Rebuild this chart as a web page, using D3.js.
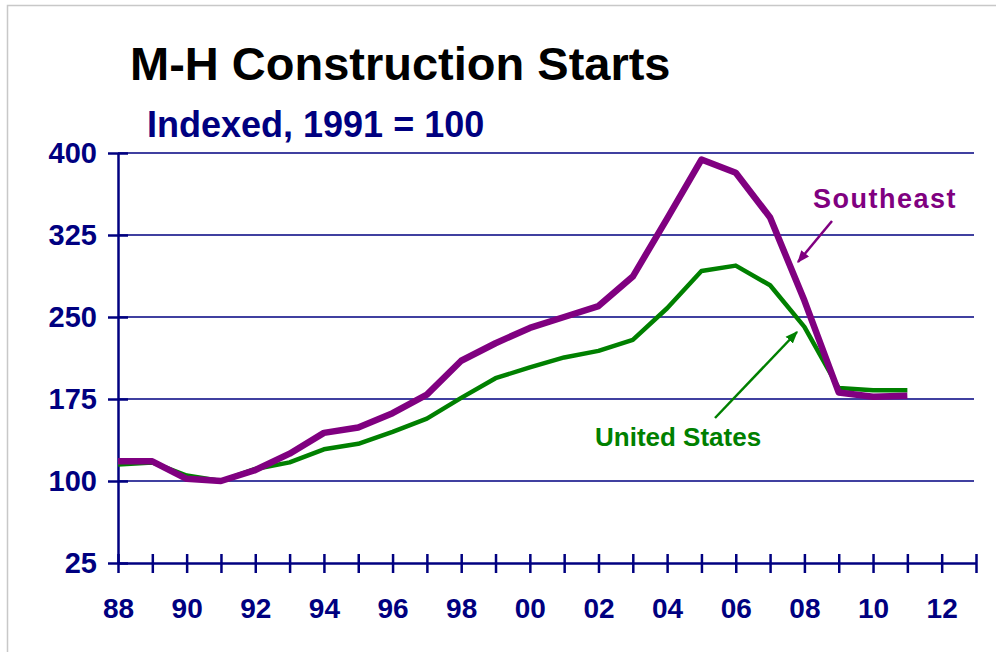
<!DOCTYPE html>
<meta charset="utf-8">
<head>
    <script src="https://d3js.org/d3.v7.min.js"></script>
</head>
<body style="margin:0; background:#fff;">
    <div id="svg_div"></div>
</body>
<style>
    text { font-family: "Liberation Sans", Arial, sans-serif; font-weight: bold; }
</style>
<script>

    // data
    var years = [1988, 1989, 1990, 1991, 1992, 1993, 1994, 1995, 1996, 1997, 1998, 1999,
        2000, 2001, 2002, 2003, 2004, 2005, 2006, 2007, 2008, 2009, 2010, 2011];
    var southeast = [118, 118, 102, 100, 110, 125, 144, 149, 162, 179, 210, 226,
        240, 250, 260, 287, 340, 394, 382, 341, 265, 181, 177, 178];
    var united_states = [115, 117, 105, 100, 111, 117, 129, 134, 145, 157, 176, 194,
        204, 213, 219, 229, 258, 292, 297, 279, 241, 185, 183, 183];

    var y_ticks = [25, 100, 175, 250, 325, 400];
    var x_ticks = [1988, 1989, 1990, 1991, 1992, 1993, 1994, 1995, 1996, 1997, 1998, 1999, 2000,
        2001, 2002, 2003, 2004, 2005, 2006, 2007, 2008, 2009, 2010, 2011, 2012, 2013];
    var x_labels = [1988, 1990, 1992, 1994, 1996, 1998, 2000, 2002, 2004, 2006, 2008, 2010, 2012];

    var navy = "#000080", purple = "#800080", green = "#008000";

    function draw_chart() {
        let svg = d3.select("#svg_div").append("svg")
            .attr("width", 996)
            .attr("height", 652);

        // light frame on top / left like the slide capture
        svg.append("rect")
            .attr("x", 7.5).attr("y", 5.5)
            .attr("width", 1000).attr("height", 700)
            .attr("fill", "none")
            .attr("stroke", "#c8c8c8")
            .attr("stroke-width", 1.5);

        let x = d3.scaleLinear().domain([1988, 2013]).range([118, 976]);
        let y = d3.scaleLinear().domain([25, 400]).range([563, 153]);

        let defs = svg.append("defs");
        [["arrow_purple", purple], ["arrow_green", green]].forEach(function (m) {
            defs.append("marker")
                .attr("id", m[0])
                .attr("viewBox", "0 0 10 10")
                .attr("refX", 9).attr("refY", 5)
                .attr("markerWidth", 5).attr("markerHeight", 5)
                .attr("orient", "auto")
                .append("path")
                .attr("d", "M0,1 L10,5 L0,9 Z")
                .attr("fill", m[1]);
        });

        // titles
        svg.append("text")
            .attr("x", 130).attr("y", 80)
            .attr("font-size", "47px")
            .attr("fill", "#000")
            .text("M-H Construction Starts");

        svg.append("text")
            .attr("x", 147).attr("y", 137)
            .attr("font-size", "36px")
            .attr("fill", navy)
            .text("Indexed, 1991 = 100");

        // gridlines
        svg.append("g")
            .selectAll("line")
            .data(y_ticks.filter(function (d) { return d > 25; }))
            .enter().append("line")
            .attr("x1", x(1988)).attr("x2", 974)
            .attr("y1", function (d) { return y(d); })
            .attr("y2", function (d) { return y(d); })
            .attr("stroke", navy)
            .attr("stroke-width", 1.5);

        // y axis
        let y_axis = svg.append("g")
            .attr("transform", "translate(" + x(1988) + ",0)")
            .call(d3.axisLeft(y).tickValues(y_ticks).tickSize(10).tickPadding(11).tickSizeOuter(0));
        y_axis.select(".domain").attr("stroke", navy).attr("stroke-width", 2.5);
        y_axis.selectAll(".tick line").attr("x1", 10).attr("x2", -10)
            .attr("stroke", navy).attr("stroke-width", 2.5);
        y_axis.selectAll(".tick text")
            .attr("fill", navy)
            .style("font-size", "29px")
            .style("font-family", "'Liberation Sans', Arial, sans-serif")
            .style("font-weight", "bold");

        // x axis
        let x_axis = svg.append("g")
            .attr("transform", "translate(0," + y(25) + ")")
            .call(d3.axisBottom(x).tickValues(x_ticks).tickSize(10).tickSizeOuter(0)
                .tickFormat(function (d) { return x_labels.indexOf(d) >= 0 ? d3.format("02")(d % 100) : ""; }));
        x_axis.select(".domain").attr("stroke", navy).attr("stroke-width", 2.5);
        x_axis.selectAll(".tick line").attr("y1", -9).attr("y2", 10)
            .attr("stroke", navy).attr("stroke-width", 2.5);
        x_axis.selectAll(".tick text")
            .attr("y", 55).attr("dy", null)
            .attr("fill", navy)
            .style("font-size", "28px")
            .style("font-family", "'Liberation Sans', Arial, sans-serif")
            .style("font-weight", "bold");

        // series lines
        let series_line = d3.line()
            .x(function (d, i) { return x(years[i]); })
            .y(function (d) { return y(d); });

        svg.append("path")
            .datum(united_states)
            .attr("d", series_line)
            .attr("fill", "none")
            .attr("stroke", green)
            .attr("stroke-width", 4.5)
            .attr("stroke-linejoin", "round");

        svg.append("path")
            .datum(southeast)
            .attr("d", series_line)
            .attr("fill", "none")
            .attr("stroke", purple)
            .attr("stroke-width", 6.5)
            .attr("stroke-linejoin", "round");

        // annotations
        svg.append("text")
            .attr("x", 813).attr("y", 208)
            .attr("font-size", "27px")
            .attr("letter-spacing", "1.5px")
            .attr("fill", purple)
            .text("Southeast");

        svg.append("line")
            .attr("x1", 832).attr("y1", 221)
            .attr("x2", 798).attr("y2", 262)
            .attr("stroke", purple).attr("stroke-width", 2.5)
            .attr("marker-end", "url(#arrow_purple)");

        svg.append("text")
            .attr("x", 595).attr("y", 446)
            .attr("font-size", "26px")
            .attr("fill", green)
            .text("United States");

        svg.append("line")
            .attr("x1", 715).attr("y1", 418)
            .attr("x2", 797).attr("y2", 332)
            .attr("stroke", green).attr("stroke-width", 2.5)
            .attr("marker-end", "url(#arrow_green)");
    }

    draw_chart();

</script>
